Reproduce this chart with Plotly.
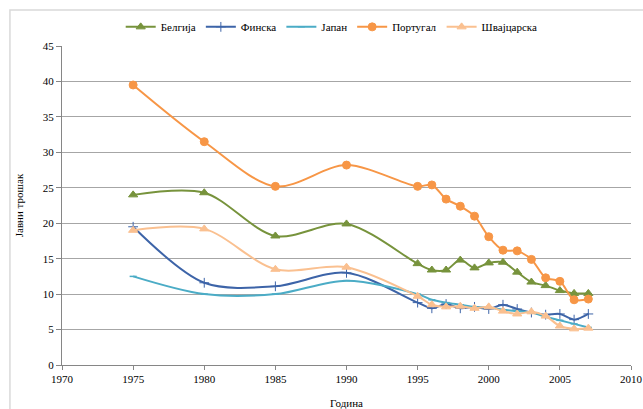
import plotly.graph_objects as go

# Years on the x axis
years = [1975, 1980, 1985, 1990, 1995, 1996, 1997, 1998, 1999,
         2000, 2001, 2002, 2003, 2004, 2005, 2006, 2007]

# Series values per country
belgium = [24.0, 24.3, 18.2, 19.9, 14.3, 13.4, 13.4, 14.8, 13.7,
           14.4, 14.5, 13.1, 11.7, 11.2, 10.5, 10.1, 10.1]
finland = [19.5, 11.6, 11.1, 13.0, 8.8, 8.0, 8.6, 8.0, 8.2,
           7.9, 8.5, 7.9, 7.4, 7.1, 7.2, 6.4, 7.2]
japan = [12.5, 10.0, 10.0, 11.9, 10.0, 9.2, 8.8, 8.5, 8.2,
         8.1, 7.8, 7.6, 7.4, 6.8, 6.3, 5.8, 5.3]
portugal = [39.5, 31.5, 25.2, 28.2, 25.2, 25.4, 23.4, 22.4, 21.0,
            18.1, 16.2, 16.1, 14.9, 12.3, 11.8, 9.2, 9.3]
switzerland = [19.0, 19.2, 13.5, 13.8, 9.7, 8.5, 8.2, 8.3, 8.0,
               8.2, 7.6, 7.2, 7.5, 6.9, 5.5, 5.1, 5.2]

series_names = ["Белгија", "Финска", "Јапан", "Португал", "Швајцарска"]
x_ticks = [1970, 1975, 1980, 1985, 1990, 1995, 2000, 2005, 2010]
y_ticks = [0, 5, 10, 15, 20, 25, 30, 35, 40, 45]

styles = [
    dict(color="#77933C", symbol="triangle-up", size=8, lw=1),
    dict(color="#3D64A8", symbol="cross-thin", size=7, lw=1),
    dict(color="#4BACC6", symbol="line-ew", size=5, lw=1.5),
    dict(color="#F79646", symbol="circle", size=8, lw=1),
    dict(color="#FAC090", symbol="triangle-up", size=8, lw=1),
]

fig = go.Figure()
for name, vals, st in zip(series_names,
                          [belgium, finland, japan, portugal, switzerland],
                          styles):
    fig.add_trace(go.Scatter(
        x=years, y=vals, name=name, mode="lines+markers",
        line=dict(color=st["color"], width=2, shape="spline", smoothing=0.9),
        marker=dict(symbol=st["symbol"], size=st["size"], color=st["color"],
                    line=dict(color=st["color"], width=st["lw"])),
    ))

font_family = "'Liberation Serif', 'DejaVu Serif', serif"

fig.update_layout(
    width=643, height=409,
    margin=dict(l=62, r=12, t=46, b=44, autoexpand=False),
    paper_bgcolor="white", plot_bgcolor="white",
    font=dict(family=font_family, size=11, color="#000000"),
    showlegend=True,
    legend=dict(orientation="h", x=0.474, y=1.06, xanchor="center",
                yanchor="middle", font=dict(family=font_family, size=11),
                itemwidth=30, tracegroupgap=0, bgcolor="rgba(0,0,0,0)"),
    xaxis=dict(range=[1970, 2010], tickvals=x_ticks, ticks="outside",
               ticklen=4, tickcolor="#868686", showgrid=False,
               showline=True, linecolor="#868686", linewidth=1,
               zeroline=False, automargin=False,
               tickfont=dict(family=font_family, size=11),
               title=dict(text="Година", standoff=19,
                          font=dict(family=font_family, size=11))),
    yaxis=dict(range=[0, 45], tickvals=y_ticks, ticks="outside",
               ticklen=5, tickcolor="#868686", showgrid=True,
               gridcolor="#A6A6A6", gridwidth=1, showline=True,
               linecolor="#868686", linewidth=1, zeroline=False,
               automargin=False,
               tickfont=dict(family=font_family, size=11),
               title=dict(text="Јавни трошак", standoff=16,
                          font=dict(family=font_family, size=11))),
    shapes=[dict(type="rect", xref="paper", yref="paper",
                 x0=-0.0915, x1=1.06, y0=-0.16, y1=1.113,
                 line=dict(color="#D9D9D9", width=1.5),
                 fillcolor="rgba(0,0,0,0)", layer="below")],
)

fig.write_html("out.html")
